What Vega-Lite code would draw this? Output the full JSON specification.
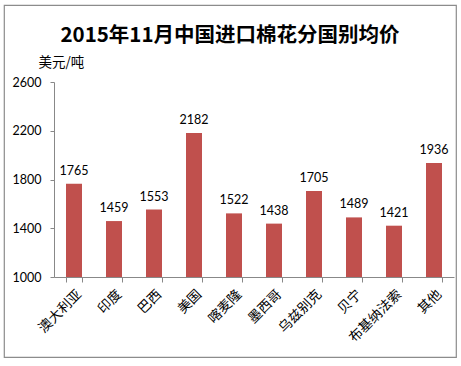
{
  "$schema": "https://vega.github.io/schema/vega-lite/v6.json",
  "width": 452,
  "height": 352,
  "autosize": {"type": "none"},
  "padding": {"left": 4, "top": 5, "right": 5, "bottom": 9},
  "background": "white",
  "title": {
    "text": "2015年11月中国进口棉花分国别均价",
    "font": "Noto Sans CJK SC",
    "fontSize": 20.5,
    "fontWeight": "bold",
    "color": "#000000",
    "anchor": "middle",
    "frame": "group",
    "offset": -41
  },
  "config": {
    "view": {"stroke": "#8c8c8c", "strokeWidth": 1.2},
    "axis": {"grid": false}
  },
  "data": {
    "values": [
      {"country": "澳大利亚", "price": 1765},
      {"country": "印度", "price": 1459},
      {"country": "巴西", "price": 1553},
      {"country": "美国", "price": 2182},
      {"country": "喀麦隆", "price": 1522},
      {"country": "墨西哥", "price": 1438},
      {"country": "乌兹别克", "price": 1705},
      {"country": "贝宁", "price": 1489},
      {"country": "布基纳法索", "price": 1421},
      {"country": "其他", "price": 1936}
    ]
  },
  "encoding": {
    "x": {
      "field": "country",
      "type": "nominal",
      "sort": null,
      "scale": {"range": [50, 450], "paddingInner": 0.6, "paddingOuter": 0.3},
      "axis": {
        "title": null,
        "offset": -80,
        "tickBand": "extent",
        "domainColor": "#888888",
        "tickColor": "#888888",
        "tickSize": 5,
        "labelAngle": -45,
        "labelFont": "Noto Sans CJK SC",
        "labelFontSize": 13.5,
        "labelColor": "#000000",
        "labelPadding": 5
      }
    },
    "y": {
      "field": "price",
      "type": "quantitative",
      "scale": {"domain": [1000, 2600], "range": [272, 77]},
      "axis": {
        "offset": -50,
        "values": [1000, 1400, 1800, 2200, 2600],
        "format": "d",
        "domainColor": "#888888",
        "tickColor": "#888888",
        "tickSize": 4,
        "labelFont": "Lato",
        "labelFontSize": 12.5,
        "labelColor": "#000000",
        "labelPadding": 9,
        "title": "美元/吨",
        "titleAngle": 0,
        "titleAlign": "left",
        "titleBaseline": "middle",
        "titleX": -16,
        "titleY": 57,
        "titleFont": "Noto Sans CJK SC",
        "titleFontSize": 13.5,
        "titleFontWeight": "normal",
        "titleColor": "#000000"
      }
    }
  },
  "layer": [
    {
      "mark": {"type": "bar", "color": "#C0504D"},
      "encoding": {"y2": {"datum": 1000}}
    },
    {
      "mark": {"type": "text", "dy": -13, "font": "Lato", "fontSize": 12.5, "color": "#000000"},
      "encoding": {"text": {"field": "price", "type": "quantitative"}}
    }
  ]
}
